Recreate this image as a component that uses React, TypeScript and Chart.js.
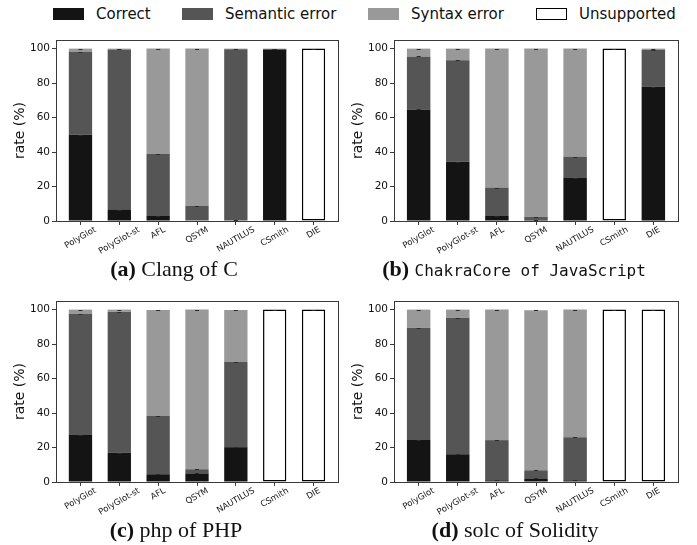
import React, { useEffect, useRef } from "react";
import { Chart, registerables } from "chart.js";

Chart.register(...registerables);

// ---------- data ----------
const categories = ["PolyGlot", "PolyGlot-st", "AFL", "QSYM", "NAUTILUS", "CSmith", "DIE"];
const seriesNames = ["Correct", "Semantic error", "Syntax error", "Unsupported"];
const seriesColors = ["#141414", "#555555", "#999999", "#ffffff"];
const yTicks = [0, 20, 40, 60, 80, 100];
const yLabel = "rate (%)";

// (a) Clang of C
const clangCorrect = [50, 6.4, 2.9, 0, 0.3, 99.5, 0];
const clangSemantic = [48, 93.1, 36.1, 8.7, 99.3, 0.3, 0];
const clangSyntax = [2, 0.5, 61, 91.3, 0.4, 0.2, 0];
const clangUnsupported = [0, 0, 0, 0, 0, 0, 100];

// (b) ChakraCore of JavaScript
const chakraCorrect = [64.7, 34.4, 2.9, 0.6, 25.2, 0, 78];
const chakraSemantic = [30.8, 58.8, 16.3, 1.7, 12.1, 0, 21.2];
const chakraSyntax = [4.5, 6.8, 80.8, 97.7, 62.7, 0, 0.8];
const chakraUnsupported = [0, 0, 0, 0, 0, 100, 0];

// (c) php of PHP
const phpCorrect = [27.2, 17.1, 4.5, 5, 20.2, 0, 0];
const phpSemantic = [70.4, 81.7, 33.8, 2.4, 49.5, 0, 0];
const phpSyntax = [2.4, 1.2, 61.5, 92.6, 30.1, 0, 0];
const phpUnsupported = [0, 0, 0, 0, 0, 100, 100];

// (d) solc of Solidity
const solcCorrect = [24.3, 16.1, 1, 2.1, 1, 0, 0];
const solcSemantic = [65.2, 79.2, 23.3, 4.7, 25, 0, 0];
const solcSyntax = [10.5, 4.7, 75.7, 92.8, 74, 0, 0];
const solcUnsupported = [0, 0, 0, 0, 0, 100, 100];

// ---------- chart panel ----------
type PanelProps = {
  series: number[][];
  left: number;
  top: number;
  width: number;
  height: number;
  padRight: number;
};

function Panel({ series, left, top, width, height, padRight }: PanelProps) {
  const ref = useRef<HTMLCanvasElement | null>(null);

  useEffect(() => {
    if (!ref.current) return;

    const framePlugin = {
      id: "frame",
      afterDraw(chart: any) {
        const { ctx, chartArea } = chart;
        ctx.save();
        ctx.strokeStyle = "#3a3a3a";
        ctx.lineWidth = 1;
        ctx.strokeRect(
          Math.round(chartArea.left) + 0.5,
          Math.round(chartArea.top) + 0.5,
          Math.round(chartArea.right - chartArea.left),
          Math.round(chartArea.bottom - chartArea.top)
        );
        ctx.restore();
      },
    };

    const capsPlugin = {
      id: "caps",
      afterDatasetsDraw(chart: any) {
        const { ctx } = chart;
        const xs = chart.scales.x;
        const ys = chart.scales.y;
        ctx.save();
        ctx.strokeStyle = "#2a2a2a";
        ctx.lineWidth = 1;
        categories.forEach((_, i) => {
          let cum = 0;
          series.forEach((s) => {
            const v = s[i];
            if (v <= 0) return;
            cum += v;
            const x = xs.getPixelForValue(i);
            const y = Math.round(ys.getPixelForValue(cum)) + 0.5;
            ctx.beginPath();
            ctx.moveTo(x - 2, y);
            ctx.lineTo(x + 2, y);
            ctx.stroke();
          });
        });
        ctx.restore();
      },
    };

    const xLabelPlugin = {
      id: "xlabels",
      afterDraw(chart: any) {
        const { ctx } = chart;
        const xs = chart.scales.x;
        const ang = Math.PI / 6;
        const h = 9.5;
        ctx.save();
        ctx.font = "8.5px 'DejaVu Sans'";
        ctx.fillStyle = "#111";
        categories.forEach((c, i) => {
          const w = ctx.measureText(c).width;
          const bh = w * Math.sin(ang) + h * Math.cos(ang);
          const x = xs.getPixelForValue(i);
          const y = xs.top + 4 + bh / 2;
          ctx.save();
          ctx.translate(x, y);
          ctx.rotate(-ang);
          ctx.textAlign = "center";
          ctx.textBaseline = "middle";
          ctx.fillText(c, 0, 0);
          ctx.restore();
        });
        ctx.restore();
      },
    };

    const datasets = series.map((vals, k) => ({
      label: seriesNames[k],
      data: vals.map((v, i) => ({ x: i, y: v })),
      backgroundColor: seriesColors[k],
      borderColor: "#000000",
      borderWidth: k === 3 ? (c: any) => (c.raw && c.raw.y > 0 ? 1.5 : 0) : 0,
      borderSkipped: false as any,
      categoryPercentage: 1,
      barPercentage: 0.6,
    }));

    const chart = new Chart(ref.current, {
      type: "bar",
      data: { datasets: datasets as any },
      plugins: [capsPlugin, framePlugin, xLabelPlugin],
      options: {
        animation: false,
        responsive: false,
        maintainAspectRatio: false,
        layout: { padding: { left: 0, right: padRight, top: 10, bottom: 0 } },
        plugins: { legend: { display: false }, tooltip: { enabled: false } },
        scales: {
          x: {
            type: "linear",
            offset: false,
            stacked: true,
            min: -0.63,
            max: 6.63,
            afterBuildTicks: (scale: any) => {
              scale.ticks = categories.map((_, i) => ({ value: i }));
            },
            afterFit: (scale: any) => {
              scale.height = 37;
            },
            ticks: { display: false },
            grid: {
              offset: false,
              drawOnChartArea: false,
              drawTicks: true,
              tickLength: 4,
              color: "#3a3a3a",
            },
            border: { display: false },
          },
          y: {
            stacked: true,
            min: 0,
            max: 105,
            afterBuildTicks: (scale: any) => {
              scale.ticks = yTicks.map((v) => ({ value: v }));
            },
            afterFit: (scale: any) => {
              scale.width = 56;
            },
            ticks: {
              padding: 2,
              color: "#111",
              font: { family: "'DejaVu Sans'", size: 10.5 },
            },
            grid: {
              drawOnChartArea: false,
              drawTicks: true,
              tickLength: 4,
              color: "#3a3a3a",
            },
            border: { display: false },
            title: {
              display: true,
              text: yLabel,
              color: "#111",
              font: { family: "'DejaVu Sans'", size: 14 },
              padding: { top: 11.6, bottom: 0 },
            },
          },
        },
      } as any,
    });
    return () => chart.destroy();
  }, []);

  return (
    <canvas
      ref={ref}
      width={width}
      height={height}
      style={{ position: "absolute", left, top, width, height }}
    />
  );
}

const legendPos = [53, 182, 368, 536];

export default function App() {
  const serif = "'Liberation Serif', 'Times New Roman', serif";
  const mono = "'DejaVu Sans Mono', monospace";
  const capStyle = (center: number, top: number): React.CSSProperties => ({
    position: "absolute",
    left: center - 200,
    width: 400,
    top,
    textAlign: "center",
    fontFamily: serif,
    fontSize: 22,
    lineHeight: "22px",
    color: "#111",
    whiteSpace: "nowrap",
  });
  return (
    <div
      style={{
        position: "absolute",
        left: 0,
        top: 0,
        width: 697,
        height: 545,
        background: "#fff",
        overflow: "hidden",
      }}
    >
      {seriesNames.map((n, k) => (
        <div
          key={n}
          style={{
            position: "absolute",
            left: legendPos[k],
            top: 5,
            height: 18,
            display: "flex",
            alignItems: "center",
            fontFamily: "'DejaVu Sans'",
            fontSize: 15,
            lineHeight: "18px",
            color: "#111",
            whiteSpace: "nowrap",
          }}
        >
          <span
            style={{
              display: "inline-block",
              width: 31,
              height: 12,
              boxSizing: "border-box",
              background: seriesColors[k],
              border: k === 3 ? "1.5px solid #000" : "none",
              marginRight: 12,
            }}
          />
          <span>{n}</span>
        </div>
      ))}

      <Panel
        series={[clangCorrect, clangSemantic, clangSyntax, clangUnsupported]}
        left={0}
        top={30}
        width={340}
        height={228}
        padRight={2}
      />
      <Panel
        series={[chakraCorrect, chakraSemantic, chakraSyntax, chakraUnsupported]}
        left={338}
        top={30}
        width={359}
        height={228}
        padRight={19}
      />
      <Panel
        series={[phpCorrect, phpSemantic, phpSyntax, phpUnsupported]}
        left={0}
        top={291}
        width={340}
        height={228}
        padRight={2}
      />
      <Panel
        series={[solcCorrect, solcSemantic, solcSyntax, solcUnsupported]}
        left={338}
        top={291}
        width={359}
        height={228}
        padRight={19}
      />

      <div style={capStyle(174, 258)}>
        <b>(a)</b> Clang of C
      </div>
      <div style={capStyle(514, 258)}>
        <b>(b)</b> <span style={{ fontFamily: mono, fontSize: 16 }}>ChakraCore of JavaScript</span>
      </div>
      <div style={capStyle(176, 519)}>
        <b>(c)</b> php of PHP
      </div>
      <div style={capStyle(515, 519)}>
        <b>(d)</b> solc of Solidity
      </div>
    </div>
  );
}
